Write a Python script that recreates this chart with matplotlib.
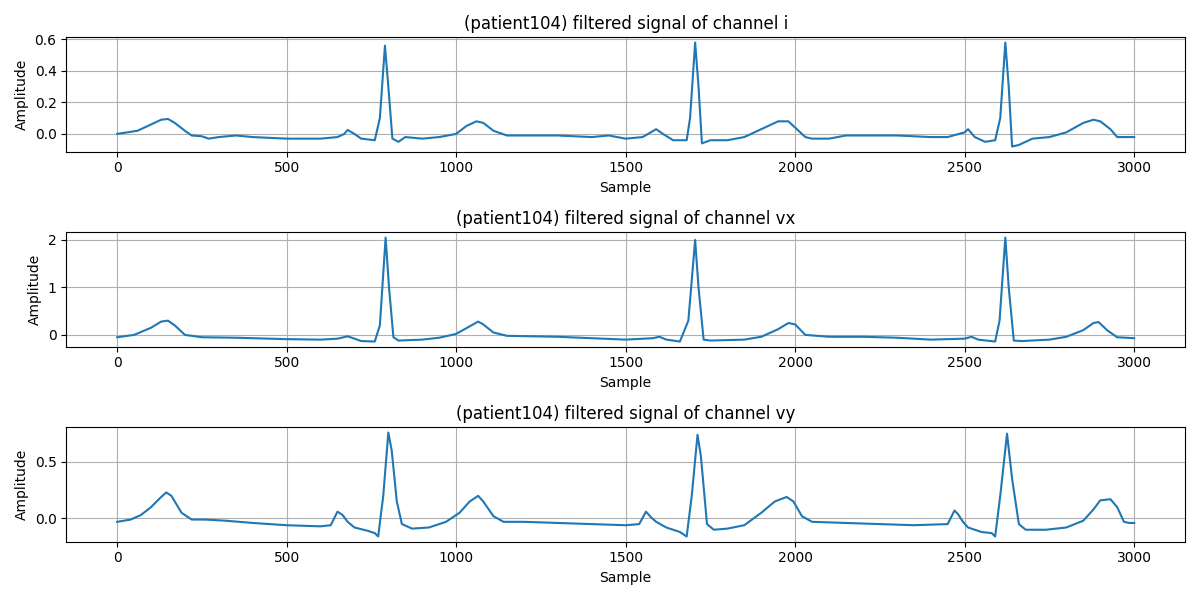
import matplotlib.pyplot as plt

patient = "patient104"

# keypoints: (sample index, amplitude)
i_points = [(0, 0.0), (30, 0.01), (60, 0.02), (100, 0.06), (130, 0.09), (150, 0.095), (170, 0.07), (200, 0.02),
            (220, -0.01), (250, -0.015), (270, -0.03), (300, -0.02), (350, -0.01), (400, -0.02), (450, -0.025),
            (500, -0.03), (550, -0.03), (600, -0.03), (650, -0.02), (670, 0.0), (680, 0.025), (700, 0.0),
            (720, -0.03), (760, -0.04), (775, 0.1), (790, 0.56), (800, 0.3), (812, -0.03), (830, -0.05),
            (850, -0.02), (900, -0.03), (950, -0.02), (1000, 0.0), (1030, 0.05), (1060, 0.08), (1080, 0.07),
            (1110, 0.02), (1150, -0.01), (1200, -0.01), (1300, -0.01), (1400, -0.02), (1450, -0.01),
            (1500, -0.03), (1550, -0.02), (1590, 0.03), (1610, 0.0), (1640, -0.04), (1680, -0.04), (1690, 0.1),
            (1705, 0.58), (1715, 0.3), (1725, -0.06), (1750, -0.04), (1800, -0.04), (1850, -0.02), (1900, 0.03),
            (1950, 0.08), (1980, 0.08), (2000, 0.04), (2030, -0.02), (2050, -0.03), (2100, -0.03),
            (2150, -0.01), (2200, -0.01), (2300, -0.01), (2400, -0.02), (2450, -0.02), (2500, 0.01),
            (2510, 0.03), (2530, -0.02), (2560, -0.05), (2590, -0.04), (2605, 0.1), (2620, 0.58), (2630, 0.3),
            (2640, -0.08), (2660, -0.07), (2700, -0.03), (2750, -0.02), (2800, 0.01), (2850, 0.07),
            (2880, 0.09), (2900, 0.08), (2930, 0.03), (2950, -0.02), (3000, -0.02)]

vx_points = [(0, -0.05), (50, 0.0), (100, 0.15), (130, 0.28), (150, 0.3), (170, 0.2), (200, 0.0), (250, -0.05),
             (350, -0.06), (500, -0.09), (600, -0.1), (650, -0.08), (680, -0.03), (700, -0.08), (720, -0.13),
             (760, -0.14), (775, 0.2), (792, 2.05), (802, 1.0), (815, -0.05), (830, -0.12), (900, -0.1),
             (950, -0.06), (1000, 0.02), (1040, 0.18), (1065, 0.28), (1080, 0.22), (1110, 0.05), (1150, -0.02),
             (1300, -0.04), (1500, -0.1), (1580, -0.07), (1600, -0.04), (1620, -0.1), (1660, -0.14),
             (1685, 0.3), (1705, 2.0), (1715, 1.0), (1730, -0.1), (1750, -0.12), (1850, -0.1), (1900, -0.04),
             (1950, 0.12), (1980, 0.25), (2000, 0.22), (2030, 0.0), (2100, -0.04), (2200, -0.04),
             (2300, -0.06), (2400, -0.1), (2500, -0.08), (2520, -0.04), (2540, -0.1), (2590, -0.14),
             (2603, 0.3), (2620, 2.05), (2630, 1.0), (2645, -0.12), (2670, -0.13), (2750, -0.1),
             (2800, -0.04), (2850, 0.1), (2880, 0.25), (2895, 0.27), (2920, 0.1), (2950, -0.05), (3000, -0.07)]

vy_points = [(0, -0.03), (40, -0.01), (70, 0.03), (100, 0.1), (130, 0.19), (145, 0.23), (160, 0.2), (190, 0.05),
             (220, -0.01), (260, -0.01), (320, -0.02), (400, -0.04), (500, -0.06), (600, -0.07), (630, -0.06),
             (650, 0.06), (665, 0.03), (680, -0.03), (700, -0.08), (740, -0.11), (760, -0.13), (770, -0.16),
             (785, 0.2), (800, 0.76), (810, 0.6), (825, 0.15), (840, -0.05), (870, -0.09), (920, -0.08),
             (970, -0.03), (1010, 0.05), (1040, 0.15), (1065, 0.2), (1080, 0.15), (1110, 0.02), (1140, -0.03),
             (1200, -0.03), (1300, -0.04), (1400, -0.05), (1500, -0.06), (1540, -0.05), (1560, 0.06),
             (1575, 0.01), (1590, -0.03), (1620, -0.08), (1660, -0.12), (1680, -0.16), (1695, 0.2),
             (1712, 0.74), (1722, 0.55), (1740, -0.05), (1760, -0.1), (1800, -0.09), (1850, -0.06),
             (1900, 0.05), (1940, 0.15), (1975, 0.19), (1995, 0.15), (2020, 0.02), (2050, -0.03),
             (2150, -0.04), (2250, -0.05), (2350, -0.06), (2450, -0.05), (2470, 0.07), (2480, 0.04),
             (2495, -0.03), (2510, -0.08), (2550, -0.12), (2580, -0.13), (2590, -0.16), (2605, 0.2),
             (2625, 0.75), (2640, 0.35), (2660, -0.05), (2680, -0.1), (2740, -0.1), (2800, -0.08),
             (2850, -0.02), (2880, 0.08), (2900, 0.16), (2930, 0.17), (2950, 0.1), (2970, -0.03),
             (2985, -0.04), (3000, -0.04)]

channels = ["i", "vx", "vy"]
series = [i_points, vx_points, vy_points]


def main():
    fig, axes = plt.subplots(3, 1, figsize=(12, 6))
    for ax, ch, pts in zip(axes, channels, series):
        xs, ys = zip(*pts)
        ax.plot(xs, ys, color="#1f77b4", linewidth=1.5)
        ax.set_title(f"({patient}) filtered signal of channel {ch}")
        ax.set_xlabel("Sample")
        ax.set_ylabel("Amplitude")
        ax.grid(True)
    plt.tight_layout()
    plt.savefig("out.png", dpi=100)
    plt.close(fig)


if __name__ == "__main__":
    main()
